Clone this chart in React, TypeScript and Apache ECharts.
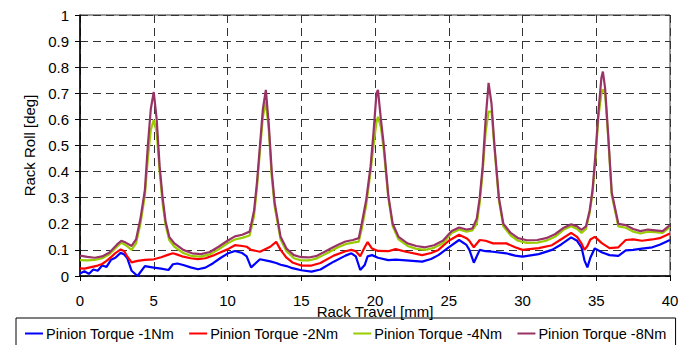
import React, { useEffect, useRef } from "react";
import * as echarts from "echarts";

const xTicks = [0, 5, 10, 15, 20, 25, 30, 35, 40];

// travel positions for the peaky (-4Nm, -8Nm) curves
const peakX = [
  0, 0.5, 1, 1.5, 2, 2.5, 2.8, 3.1, 3.5, 3.8, 4.1, 4.4, 4.6, 4.8, 5.0, 5.2, 5.4, 5.6, 5.8, 6.05,
  6.4, 7.0, 7.6, 8.2, 8.8, 9.4, 10, 10.5, 11, 11.5, 11.8, 12.0, 12.2, 12.4, 12.6, 12.8, 13.0, 13.2,
  13.6, 14.0, 14.5, 15, 15.5, 16, 16.5, 17, 17.5, 18, 18.5, 18.9, 19.1, 19.4, 19.7, 19.9, 20.1,
  20.2, 20.4, 20.6, 20.9, 21.2, 21.6, 22.2, 22.8, 23.4, 24, 24.6, 25.2, 25.7, 26.2, 26.6, 26.9,
  27.1, 27.3, 27.5, 27.7, 27.9, 28.1, 28.4, 28.7, 29.2, 29.7, 30.3, 31, 31.6, 32.2, 32.8, 33.3,
  33.7, 34.0, 34.3, 34.55, 34.75, 34.95, 35.15, 35.35, 35.45, 35.6, 35.8, 36.05, 36.5, 37.0,
  37.5, 38.0, 38.5, 39.0, 39.5, 40,
];

const torque8 = [
  0.078, 0.073, 0.07, 0.075, 0.09, 0.12, 0.135, 0.128, 0.115, 0.14, 0.22, 0.33, 0.5, 0.64, 0.705,
  0.6, 0.42, 0.3, 0.21, 0.15, 0.125, 0.1, 0.087, 0.084, 0.092, 0.112, 0.135, 0.152, 0.158, 0.17,
  0.25, 0.36, 0.5, 0.64, 0.713, 0.58, 0.4, 0.28, 0.15, 0.105, 0.08, 0.072, 0.071, 0.076, 0.09,
  0.105, 0.12, 0.132, 0.138, 0.145, 0.2, 0.29, 0.42, 0.55, 0.7, 0.713, 0.6, 0.5, 0.31, 0.2, 0.15,
  0.125, 0.115, 0.11, 0.118, 0.135, 0.172, 0.186, 0.178, 0.182, 0.22, 0.3, 0.42, 0.6, 0.74, 0.66,
  0.5, 0.3, 0.2, 0.165, 0.145, 0.137, 0.138, 0.145, 0.16, 0.185, 0.198, 0.19, 0.177, 0.19, 0.25,
  0.33, 0.47, 0.63, 0.76, 0.783, 0.72, 0.55, 0.32, 0.2, 0.195, 0.18, 0.172, 0.178, 0.175, 0.172,
  0.195,
];

const torque4 = [
  0.061, 0.06, 0.062, 0.068, 0.083, 0.112, 0.128, 0.118, 0.1, 0.125, 0.2, 0.31, 0.45, 0.56, 0.598,
  0.55, 0.4, 0.28, 0.195, 0.138, 0.112, 0.088, 0.076, 0.074, 0.083, 0.102, 0.125, 0.14, 0.146,
  0.155, 0.23, 0.34, 0.48, 0.61, 0.668, 0.56, 0.38, 0.265, 0.14, 0.095, 0.068, 0.06, 0.06, 0.066,
  0.08, 0.095, 0.11, 0.122, 0.128, 0.132, 0.18, 0.27, 0.4, 0.5, 0.59, 0.61, 0.57, 0.48, 0.3, 0.19,
  0.14, 0.115, 0.104, 0.1, 0.108, 0.125, 0.165, 0.178, 0.17, 0.175, 0.2, 0.28, 0.4, 0.55, 0.63,
  0.63, 0.49, 0.29, 0.19, 0.155, 0.135, 0.127, 0.128, 0.135, 0.15, 0.178, 0.191, 0.18, 0.165,
  0.18, 0.24, 0.32, 0.45, 0.61, 0.7, 0.715, 0.7, 0.54, 0.31, 0.19, 0.185, 0.17, 0.163, 0.17,
  0.168, 0.165, 0.188,
];

// travel positions for the low (-1Nm, -2Nm) curves
const baseX = [
  0, 0.3, 0.6, 0.9, 1.2, 1.5, 1.8, 2.1, 2.4, 2.76, 3.0, 3.2, 3.5, 3.9, 4.4, 5.0, 5.5, 6.0, 6.3,
  6.6, 7.0, 7.5, 8.0, 8.5, 9.0, 9.5, 10.0, 10.5, 11.0, 11.3, 11.6, 12.2, 12.9, 13.3, 13.6, 14.0,
  14.4, 15.0, 15.7, 16.3, 17.2, 18.0, 18.4, 18.7, 19.0, 19.3, 19.5, 19.8, 20.2, 20.9, 21.4, 22.1,
  23.2, 23.8, 24.3, 25.0, 25.7, 26.2, 26.4, 26.7, 27.1, 27.5, 28.0, 28.9, 29.5, 30.0, 31.1, 32.0,
  32.6, 33.3, 33.7, 34.0, 34.2, 34.4, 34.6, 34.9, 35.4, 35.9, 36.5, 37.0, 37.5, 38.1, 38.8, 39.3,
  40,
];

const torque2 = [
  0.029, 0.028, 0.032, 0.036, 0.04, 0.046, 0.058, 0.072, 0.088, 0.102, 0.095, 0.075, 0.052, 0.058,
  0.062, 0.064, 0.072, 0.082, 0.087, 0.082, 0.074, 0.068, 0.065, 0.068, 0.078, 0.09, 0.102, 0.118,
  0.115, 0.112, 0.1, 0.093, 0.112, 0.131, 0.1, 0.07, 0.052, 0.04, 0.04, 0.05, 0.078, 0.095, 0.1,
  0.095, 0.076, 0.11, 0.13, 0.105, 0.096, 0.095, 0.103, 0.093, 0.08, 0.088, 0.1, 0.135, 0.158,
  0.145, 0.135, 0.11, 0.138, 0.135, 0.125, 0.125, 0.11, 0.1, 0.107, 0.118, 0.14, 0.165, 0.15,
  0.125, 0.1, 0.115, 0.14, 0.15, 0.125, 0.107, 0.11, 0.138, 0.14, 0.135, 0.14, 0.145, 0.163,
];

const torque1 = [
  0.01, 0.018, 0.008, 0.025, 0.02, 0.04, 0.035, 0.062, 0.07, 0.089, 0.082, 0.069, 0.02, 0.0, 0.038,
  0.032, 0.028, 0.023, 0.045, 0.048, 0.042, 0.033, 0.026, 0.032, 0.048, 0.068, 0.086, 0.096,
  0.088, 0.075, 0.033, 0.064, 0.056, 0.05, 0.043, 0.038, 0.03, 0.022, 0.017, 0.025, 0.055, 0.078,
  0.087, 0.075, 0.023, 0.042, 0.075, 0.08, 0.07, 0.061, 0.063, 0.06, 0.055, 0.065, 0.08, 0.11,
  0.138, 0.119, 0.1, 0.051, 0.1, 0.095, 0.093, 0.087, 0.078, 0.074, 0.084, 0.1, 0.12, 0.148,
  0.135, 0.11, 0.06, 0.033, 0.07, 0.106, 0.09, 0.08, 0.077, 0.098, 0.1, 0.105, 0.11, 0.12, 0.138,
];

const seriesNames = [
  "Pinion Torque -1Nm",
  "Pinion Torque -2Nm",
  "Pinion Torque -4Nm",
  "Pinion Torque -8Nm",
];

const zip = (xs: number[], ys: number[]) => xs.map((x, i) => [x, ys[i]]);

export default function App() {
  const ref = useRef<HTMLDivElement>(null);
  useEffect(() => {
    if (!ref.current) return;
    const chart = echarts.init(ref.current, undefined, { renderer: "svg" });
    const font = "Liberation Sans";
    const dashed = { color: "#333", width: 1, type: [8, 5] as any };
    chart.setOption({
      animation: false,
      textStyle: { fontFamily: font, color: "#000" },
      grid: {
        left: 80,
        right: 13,
        top: 15,
        bottom: 69,
        show: true,
        borderColor: "#333",
        borderWidth: 1,
      },
      legend: {
        data: seriesNames,
        left: 16,
        top: 318,
        padding: [8, 9, 6, 9],
        borderColor: "#000",
        borderWidth: 1,
        itemGap: 15,
        itemWidth: 18,
        itemHeight: 2,
        icon: "rect",
        textStyle: { fontSize: 14.5, fontFamily: font, color: "#000", padding: [0, 0, 0, -2] },
      },
      xAxis: {
        type: "value",
        min: 0,
        max: 40,
        interval: 5,
        name: "Rack Travel [mm]",
        nameLocation: "middle",
        nameGap: 28,
        nameMoveOverlap: false,
        nameTextStyle: { fontSize: 15, fontFamily: font, color: "#000", lineHeight: 14 },
        axisLine: { show: true, lineStyle: { color: "#000", width: 1.5 } },
        axisTick: { show: true, length: 5, lineStyle: { color: "#000" } },
        axisLabel: { fontSize: 15, margin: 17, color: "#000", fontFamily: font },
        splitLine: { show: true, lineStyle: dashed },
      },
      yAxis: {
        type: "value",
        min: 0,
        max: 1,
        interval: 0.1,
        name: "Rack Roll [deg]",
        nameLocation: "middle",
        nameGap: 43,
        nameMoveOverlap: false,
        nameTextStyle: { fontSize: 15, fontFamily: font, color: "#000" },
        axisLine: { show: true, lineStyle: { color: "#000", width: 1.5 } },
        axisTick: { show: true, length: 5, lineStyle: { color: "#000" } },
        axisLabel: { fontSize: 15, margin: 11, color: "#000", fontFamily: font },
        splitLine: { show: true, lineStyle: dashed },
      },
      series: [
        { name: seriesNames[0], type: "line", data: zip(baseX, torque1), color: "#0000ff" },
        { name: seriesNames[1], type: "line", data: zip(baseX, torque2), color: "#ff0000" },
        { name: seriesNames[2], type: "line", data: zip(peakX, torque4), color: "#99cc00" },
        { name: seriesNames[3], type: "line", data: zip(peakX, torque8), color: "#993366" },
      ].map((s) => ({
        ...s,
        showSymbol: false,
        symbol: "none",
        lineStyle: { width: 2.2, color: s.color },
        itemStyle: { color: s.color },
        clip: true,
      })),
    });
    return () => chart.dispose();
  }, []);
  return <div ref={ref} style={{ width: 683, height: 345, position: "absolute", left: 0, top: 0 }} />;
}
